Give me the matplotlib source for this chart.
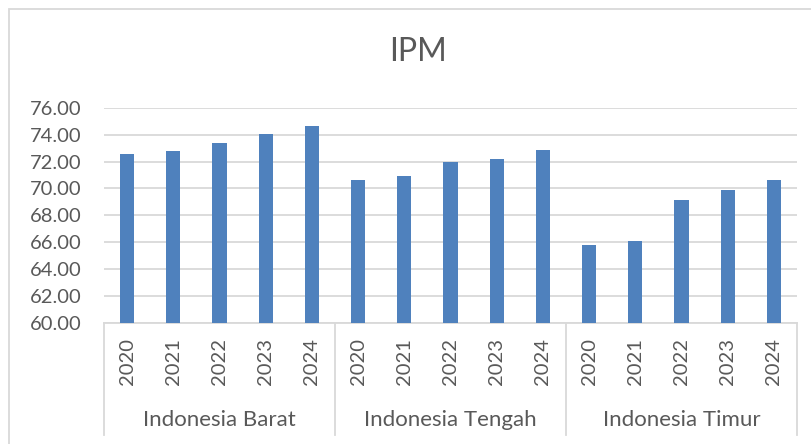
import matplotlib.pyplot as plt
from matplotlib.patches import Rectangle
from matplotlib.lines import Line2D
import matplotlib.transforms as mtransforms
import numpy as np

# data
groups = ['Indonesia Barat', 'Indonesia Tengah', 'Indonesia Timur']
years = ['2020', '2021', '2022', '2023', '2024']
barat = [72.54, 72.79, 73.36, 74.02, 74.64]
tengah = [70.59, 70.94, 72.00, 72.22, 72.86]
timur = [65.83, 66.07, 69.14, 69.90, 70.64]
yticks = [60, 62, 64, 66, 68, 70, 72, 74, 76]

plt.rcParams['font.family'] = ['Lato', 'DejaVu Sans']
txt = '#595959'
grid = '#d9d9d9'

values = barat + tengah + timur
labels = years * len(groups)
x = np.arange(len(values))

fig = plt.figure(figsize=(8.12, 4.44), dpi=100)
ax = fig.add_axes([104/812, 1-323/444, 693/812, (323-107.7)/444])

ax.bar(x, values, width=0.31, color='#4f81bd', zorder=3)
ax.set_xlim(-0.5, len(values) - 0.5)
ax.set_ylim(60, 76)
ax.set_yticks(yticks)
ax.set_yticklabels(['%.2f' % v for v in yticks])
ax.yaxis.grid(True, color=grid, linewidth=1.3, zorder=0)
ax.set_xticks(x)
ax.set_xticklabels(labels, rotation=90, va='top')
ax.tick_params(axis='both', length=0, colors=txt, labelsize=14.5)
ax.tick_params(axis='x', pad=11)
ax.tick_params(axis='y', pad=16)
for s in ['top', 'right', 'left']:
    ax.spines[s].set_visible(False)
ax.spines['bottom'].set_color(grid)
ax.spines['bottom'].set_linewidth(1.3)

# group separators and labels
trans = mtransforms.blended_transform_factory(ax.transData, ax.transAxes)
h = 323 - 107.7
n = len(years)
for i in range(len(groups) + 1):
    xs = i * n - 0.5
    ax.add_line(Line2D([xs, xs], [0, -(435 - 323) / h], transform=trans, color=grid,
                       linewidth=1.3, clip_on=False))
for i, g in enumerate(groups):
    ax.text(i * n + (n - 1) / 2, -(420 - 323) / h, g, transform=trans,
            ha='center', va='center', fontsize=16, color=txt)

fig.text(418/812, 1 - 52/444, 'IPM', ha='center', va='center', fontsize=23, color=txt)

# chart border
fig.add_artist(Rectangle((9/812, -0.1), 1.2, 1.1 - 9/444, transform=fig.transFigure,
                         fill=False, edgecolor=grid, linewidth=1.3))

fig.savefig('out.png', dpi=100)
